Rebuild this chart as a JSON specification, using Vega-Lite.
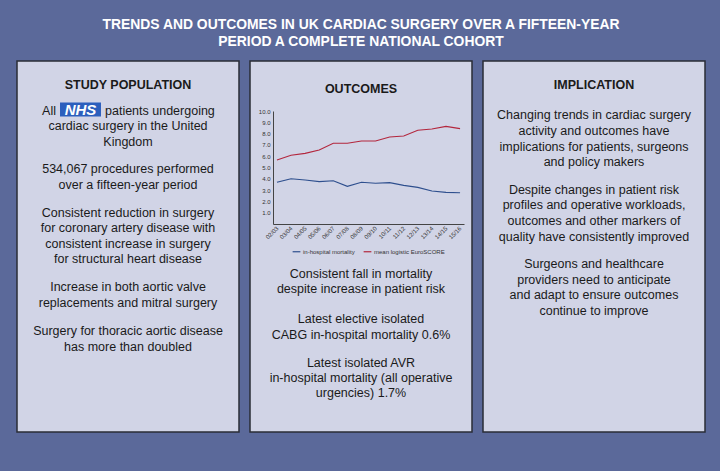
{
  "$schema": "https://vega.github.io/schema/vega-lite/v6.json",
  "background": "#5b699a",
  "padding": {"left": 16, "right": 16, "top": 0, "bottom": 39},
  "config": {"font": "Liberation Sans", "view": {"stroke": null}},
  "datasets": {
    "title": [
      {"line": 1.67, "text": "TRENDS AND OUTCOMES IN UK CARDIAC SURGERY OVER A FIFTEEN-YEAR"},
      {"line": 2.78, "text": "PERIOD A COMPLETE NATIONAL COHORT"}
    ],
    "panelText": [
      {"panel": "left", "kind": "head", "line": 1.6, "text": "STUDY POPULATION"},
      {"panel": "left", "kind": "nhsL", "line": 3.33, "text": "All"},
      {"panel": "left", "kind": "nhsLogo", "line": 3.33, "text": "NHS"},
      {"panel": "left", "kind": "nhsR", "line": 3.33, "text": "patients undergoing"},
      {"panel": "left", "kind": "body", "line": 4.33, "text": "cardiac surgery in the United"},
      {"panel": "left", "kind": "body", "line": 5.4, "text": "Kingdom"},
      {"panel": "left", "kind": "body", "line": 7.2, "text": "534,067 procedures performed"},
      {"panel": "left", "kind": "body", "line": 8.27, "text": "over a fifteen-year period"},
      {"panel": "left", "kind": "body", "line": 10.13, "text": "Consistent reduction in surgery"},
      {"panel": "left", "kind": "body", "line": 11.13, "text": "for coronary artery disease with"},
      {"panel": "left", "kind": "body", "line": 12.2, "text": "consistent increase in surgery"},
      {"panel": "left", "kind": "body", "line": 13.2, "text": "for structural heart disease"},
      {"panel": "left", "kind": "body", "line": 15.07, "text": "Increase in both aortic valve"},
      {"panel": "left", "kind": "body", "line": 16.13, "text": "replacements and mitral surgery"},
      {"panel": "left", "kind": "body", "line": 18.0, "text": "Surgery for thoracic aortic disease"},
      {"panel": "left", "kind": "body", "line": 19.07, "text": "has more than doubled"},
      {"panel": "middle", "kind": "head", "line": 1.87, "text": "OUTCOMES"},
      {"panel": "middle", "kind": "body", "line": 14.22, "text": "Consistent fall in mortality"},
      {"panel": "middle", "kind": "body", "line": 15.22, "text": "despite increase in patient risk"},
      {"panel": "middle", "kind": "body", "line": 17.22, "text": "Latest elective isolated"},
      {"panel": "middle", "kind": "body", "line": 18.27, "text": "CABG in-hospital mortality 0.6%"},
      {"panel": "middle", "kind": "body", "line": 20.15, "text": "Latest isolated AVR"},
      {"panel": "middle", "kind": "body", "line": 21.15, "text": "in-hospital mortality (all operative"},
      {"panel": "middle", "kind": "body", "line": 22.15, "text": "urgencies) 1.7%"},
      {"panel": "right", "kind": "head", "line": 1.6, "text": "IMPLICATION"},
      {"panel": "right", "kind": "body", "line": 3.6, "text": "Changing trends in cardiac surgery"},
      {"panel": "right", "kind": "body", "line": 4.67, "text": "activity and outcomes have"},
      {"panel": "right", "kind": "body", "line": 5.73, "text": "implications for patients, surgeons"},
      {"panel": "right", "kind": "body", "line": 6.73, "text": "and policy makers"},
      {"panel": "right", "kind": "body", "line": 8.6, "text": "Despite changes in patient risk"},
      {"panel": "right", "kind": "body", "line": 9.6, "text": "profiles and operative workloads,"},
      {"panel": "right", "kind": "body", "line": 10.67, "text": "outcomes and other markers of"},
      {"panel": "right", "kind": "body", "line": 11.73, "text": "quality have consistently improved"},
      {"panel": "right", "kind": "body", "line": 13.53, "text": "Surgeons and healthcare"},
      {"panel": "right", "kind": "body", "line": 14.6, "text": "providers need to anticipate"},
      {"panel": "right", "kind": "body", "line": 15.6, "text": "and adapt to ensure outcomes"},
      {"panel": "right", "kind": "body", "line": 16.67, "text": "continue to improve"}
    ],
    "trend": [
      {"season": "02/03", "series": "in-hospital mortality", "value": 3.69},
      {"season": "03/04", "series": "in-hospital mortality", "value": 4.01},
      {"season": "04/05", "series": "in-hospital mortality", "value": 3.89},
      {"season": "05/06", "series": "in-hospital mortality", "value": 3.75},
      {"season": "06/07", "series": "in-hospital mortality", "value": 3.83},
      {"season": "07/08", "series": "in-hospital mortality", "value": 3.33},
      {"season": "08/09", "series": "in-hospital mortality", "value": 3.69},
      {"season": "09/10", "series": "in-hospital mortality", "value": 3.6},
      {"season": "10/11", "series": "in-hospital mortality", "value": 3.66},
      {"season": "11/12", "series": "in-hospital mortality", "value": 3.42},
      {"season": "12/13", "series": "in-hospital mortality", "value": 3.24},
      {"season": "13/14", "series": "in-hospital mortality", "value": 2.92},
      {"season": "14/15", "series": "in-hospital mortality", "value": 2.8},
      {"season": "15/16", "series": "in-hospital mortality", "value": 2.77},
      {"season": "02/03", "series": "mean logistic EuroSCORE", "value": 5.66},
      {"season": "03/04", "series": "mean logistic EuroSCORE", "value": 6.08},
      {"season": "04/05", "series": "mean logistic EuroSCORE", "value": 6.25},
      {"season": "05/06", "series": "mean logistic EuroSCORE", "value": 6.55},
      {"season": "06/07", "series": "mean logistic EuroSCORE", "value": 7.14},
      {"season": "07/08", "series": "mean logistic EuroSCORE", "value": 7.14},
      {"season": "08/09", "series": "mean logistic EuroSCORE", "value": 7.35},
      {"season": "09/10", "series": "mean logistic EuroSCORE", "value": 7.35},
      {"season": "10/11", "series": "mean logistic EuroSCORE", "value": 7.7},
      {"season": "11/12", "series": "mean logistic EuroSCORE", "value": 7.79},
      {"season": "12/13", "series": "mean logistic EuroSCORE", "value": 8.29},
      {"season": "13/14", "series": "mean logistic EuroSCORE", "value": 8.41},
      {"season": "14/15", "series": "mean logistic EuroSCORE", "value": 8.64},
      {"season": "15/16", "series": "mean logistic EuroSCORE", "value": 8.44}
    ]
  },
  "spacing": 0,
  "bounds": "flush",
  "vconcat": [
    {
      "width": 688,
      "height": 61,
      "data": {"name": "title"},
      "mark": {"type": "text", "fontWeight": "bold", "fontSize": 13.9, "fill": "#ffffff", "baseline": "middle"},
      "encoding": {
        "y": {"field": "line", "type": "quantitative", "scale": {"domain": [0, 4.0667], "reverse": true}, "axis": null},
        "text": {"field": "text"}
      }
    },
    {
      "spacing": 11,
      "bounds": "flush",
      "resolve": {"scale": {"x": "independent", "y": "independent", "color": "independent"}},
      "hconcat": [
        {
          "width": 222,
          "height": 371,
          "view": {"fill": "#d1d4e6", "stroke": "#2a2d36", "strokeWidth": 1.5},
          "data": {"name": "panelText"},
          "transform": [{"filter": "datum.panel === 'left'"}],
          "encoding": {
            "y": {"field": "line", "type": "quantitative", "scale": {"domain": [0, 24.7333], "reverse": true}, "axis": null},
            "text": {"field": "text"}
          },
          "layer": [
            {"transform": [{"filter": "datum.kind === 'head'"}], "mark": {"type": "text", "fontWeight": "bold", "fontSize": 12.5, "fill": "#1a1a1a", "baseline": "middle"}},
            {"transform": [{"filter": "datum.kind === 'body'"}], "mark": {"type": "text", "fontSize": 12.5, "fill": "#1a1a1a", "baseline": "middle"}},
            {"transform": [{"filter": "datum.kind === 'nhsL'"}], "mark": {"type": "text", "fontSize": 12.5, "fill": "#1a1a1a", "baseline": "middle", "align": "right", "dx": -72}},
            {"transform": [{"filter": "datum.kind === 'nhsR'"}], "mark": {"type": "text", "fontSize": 12.5, "fill": "#1a1a1a", "baseline": "middle", "align": "left", "dx": -23}},
            {"transform": [{"filter": "datum.kind === 'nhsLogo'"}], "mark": {"type": "point", "shape": "M-1.46,-0.5H1.46V0.5H-1.46Z", "size": 788, "filled": true, "fill": "#2c5fbd", "opacity": 1, "strokeWidth": 0, "xOffset": -47.5, "yOffset": -1.5}},
            {"transform": [{"filter": "datum.kind === 'nhsLogo'"}], "mark": {"type": "text", "fontSize": 15, "fontWeight": "bold", "fontStyle": "italic", "fill": "#ffffff", "baseline": "middle", "dx": -47.5, "dy": -1}}
          ]
        },
        {
          "width": 222,
          "height": 371,
          "view": {"fill": "#d1d4e6", "stroke": "#2a2d36", "strokeWidth": 1.5},
          "resolve": {"scale": {"x": "independent", "y": "independent"}},
          "layer": [
            {
              "data": {"name": "trend"},
              "mark": {"type": "line", "strokeWidth": 1.1},
              "encoding": {
                "x": {"field": "season", "type": "ordinal", "sort": null,
                      "scale": {"type": "point", "range": [23, 214], "padding": 0.28},
                      "axis": {"orient": "bottom", "offset": -208, "title": null, "labelAngle": -45, "labelAlign": "right", "labelBaseline": "middle", "labelFontSize": 6, "labelColor": "#333333", "ticks": false, "labelPadding": 3, "domainColor": "#444444", "domainWidth": 1, "grid": false}},
                "y": {"field": "value", "type": "quantitative",
                      "scale": {"domain": [0, 10], "range": [163, 50], "nice": false, "zero": false},
                      "axis": {"orient": "left", "offset": -23, "title": null, "values": [1, 2, 3, 4, 5, 6, 7, 8, 9, 10], "format": ".1f", "labelFontSize": 6, "labelColor": "#333333", "ticks": false, "labelPadding": 3, "domainColor": "#444444", "domainWidth": 1, "grid": false}},
                "color": {"field": "series", "type": "nominal",
                          "scale": {"domain": ["in-hospital mortality", "mean logistic EuroSCORE"], "range": ["#2e4f8e", "#b3263d"]},
                          "legend": {"orient": "none", "legendX": 42, "legendY": 186, "direction": "horizontal", "title": null, "symbolType": "stroke", "symbolSize": 60, "symbolStrokeWidth": 1.2, "labelFontSize": 6, "labelColor": "#333333", "columnPadding": 6, "labelOffset": 2, "padding": 0}}
              }
            },
            {
              "data": {"name": "panelText"},
              "transform": [{"filter": "datum.panel === 'middle'"}],
              "encoding": {
                "y": {"field": "line", "type": "quantitative", "scale": {"domain": [0, 24.7333], "reverse": true}, "axis": null},
                "text": {"field": "text"}
              },
              "layer": [
                {"transform": [{"filter": "datum.kind === 'head'"}], "mark": {"type": "text", "fontWeight": "bold", "fontSize": 12.5, "fill": "#1a1a1a", "baseline": "middle"}},
                {"transform": [{"filter": "datum.kind === 'body'"}], "mark": {"type": "text", "fontSize": 12.5, "fill": "#1a1a1a", "baseline": "middle"}}
              ]
            }
          ]
        },
        {
          "width": 222,
          "height": 371,
          "view": {"fill": "#d1d4e6", "stroke": "#2a2d36", "strokeWidth": 1.5},
          "data": {"name": "panelText"},
          "transform": [{"filter": "datum.panel === 'right'"}],
          "encoding": {
            "y": {"field": "line", "type": "quantitative", "scale": {"domain": [0, 24.7333], "reverse": true}, "axis": null},
            "text": {"field": "text"}
          },
          "layer": [
            {"transform": [{"filter": "datum.kind === 'head'"}], "mark": {"type": "text", "fontWeight": "bold", "fontSize": 12.5, "fill": "#1a1a1a", "baseline": "middle"}},
            {"transform": [{"filter": "datum.kind === 'body'"}], "mark": {"type": "text", "fontSize": 12.5, "fill": "#1a1a1a", "baseline": "middle"}}
          ]
        }
      ]
    }
  ]
}
